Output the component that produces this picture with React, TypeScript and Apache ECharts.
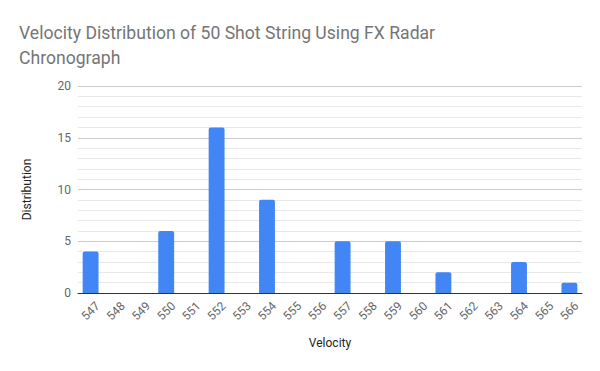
import React, { useEffect, useRef } from "react";
import * as echarts from "echarts";

const categories = ["547","548","549","550","551","552","553","554","555","556","557","558","559","560","561","562","563","564","565","566"];
const distribution = [4,0,0,6,0,16,0,9,0,0,5,0,5,0,2,0,0,3,0,1];
const titleText = "Velocity Distribution of 50 Shot String Using FX Radar\nChronograph";

export default function App() {
  const ref = useRef<HTMLDivElement>(null);
  useEffect(() => {
    document.body.style.margin = "0";
    const chart = echarts.init(ref.current!, null, { renderer: "svg" });
    chart.setOption({
      animation: false,
      backgroundColor: "#ffffff",
      textStyle: { fontFamily: "Roboto" },
      title: {
        text: titleText,
        left: 14,
        top: 15,
        textStyle: { fontFamily: "Roboto", fontSize: 17.6, fontWeight: "normal", color: "#757575", lineHeight: 25 },
      },
      grid: { left: 78, right: 18, top: 86, bottom: 78 },
      xAxis: {
        type: "category",
        data: categories,
        name: "Velocity",
        nameLocation: "middle",
        nameGap: 44,
        nameTextStyle: { fontFamily: "Roboto", fontSize: 12, color: "#222222" },
        axisLine: { show: true, lineStyle: { color: "#333333", width: 1 } },
        axisTick: { show: false },
        axisLabel: { rotate: 45, align: "center", verticalAlign: "middle", fontFamily: "Roboto", fontSize: 12, color: "#666666", margin: 18, interval: 0 },
      },
      yAxis: {
        type: "value",
        min: 0,
        max: 20,
        interval: 5,
        name: "Distribution",
        nameLocation: "middle",
        nameGap: 45,
        nameTextStyle: { fontFamily: "Roboto", fontSize: 12, color: "#222222" },
        axisLine: { show: false },
        axisTick: { show: false },
        axisLabel: { fontFamily: "Roboto", fontSize: 12, color: "#666666", margin: 7 },
        splitLine: { show: true, lineStyle: { color: "#cccccc", width: 1 } },
        minorTick: { show: false, splitNumber: 5 },
        minorSplitLine: { show: true, lineStyle: { color: "#e8e8e8", width: 1 } },
      },
      series: [
        {
          type: "bar",
          data: distribution,
          barWidth: "63%",
          itemStyle: { color: "#4285f4", borderRadius: [2, 2, 0, 0] },
        },
      ],
    });
    return () => chart.dispose();
  }, []);
  return <div ref={ref} style={{ width: 600, height: 371 }} />;
}
